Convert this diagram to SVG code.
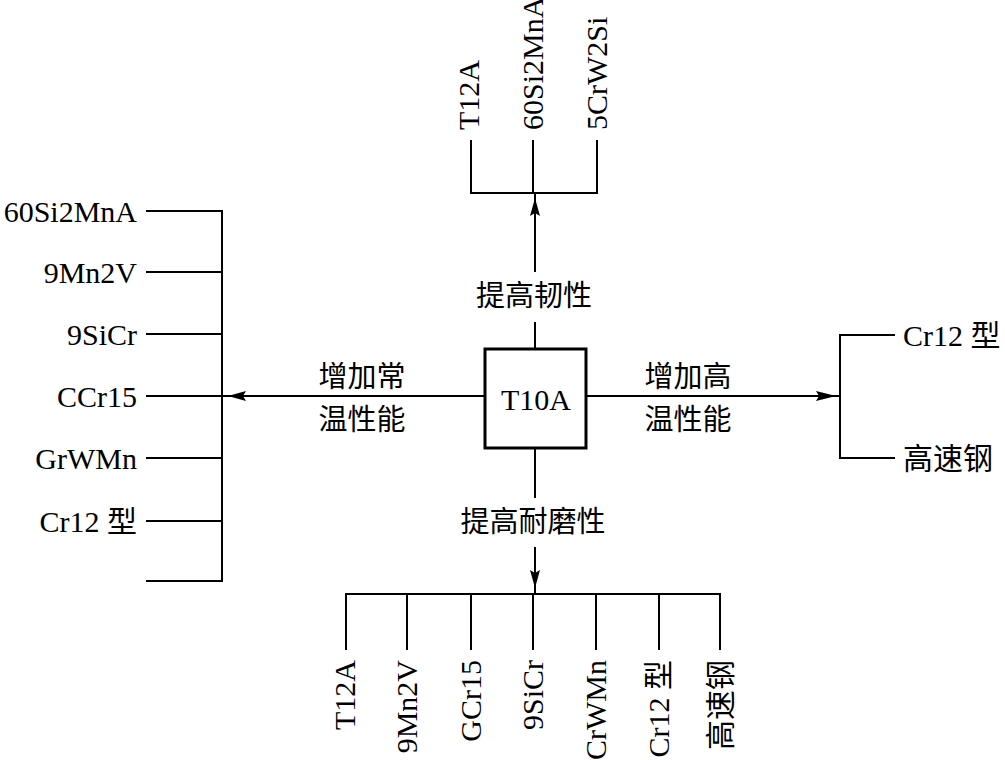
<svg xmlns="http://www.w3.org/2000/svg" width="1005" height="760" viewBox="0 0 1005 760">
<defs>
<style>
.ln{stroke:#000;stroke-width:2;fill:none}
.t{font-family:"Liberation Serif","Noto Sans CJK SC",serif;font-size:30px;fill:#000}
.c{font-family:"Noto Sans CJK SC",sans-serif;font-size:29px;fill:#000}
.ah{fill:#000}
</style>
</defs>
<rect width="1005" height="760" fill="#fff"/>
<g id="connectors">
<path class="ln" d="M535 349V322M535 272V193"/>
<path class="ln" d="M471 140V193H597V140M533 140V193"/>
<polygon class="ah" points="535,198 530,216 535,213 540,216"/>
<path class="ln" d="M485 396H222"/>
<path class="ln" d="M146 211H222V581H146M146 272H222M146 334H222M146 396H222M146 458H222M146 521H222"/>
<polygon class="ah" points="228,396 246,391 243,396 246,401"/>
<path class="ln" d="M586 396H840"/>
<path class="ln" d="M895 335H840V458H895"/>
<polygon class="ah" points="836,396 816,391 819,396 816,401"/>
<path class="ln" d="M535 448V498M535 547V594"/>
<path class="ln" d="M346 650V594H720V650M407 594V650M471 594V650M533 594V650M596 594V650M659 594V650"/>
<polygon class="ah" points="535,588 530,570 535,573 540,570"/>
</g>
<g id="T10A">
<rect x="485" y="349" width="101" height="99" fill="#fff" stroke="#000" stroke-width="3"/>
<text class="t" x="536" y="410" text-anchor="middle">T10A</text>
</g>
<g id="label-toughness"><text class="c" x="534" y="306" text-anchor="middle">提高韧性</text></g>
<g id="label-room-temp"><text class="c" x="362" y="387" text-anchor="middle">增加常</text><text class="c" x="362" y="430" text-anchor="middle">温性能</text></g>
<g id="label-high-temp"><text class="c" x="688" y="387" text-anchor="middle">增加高</text><text class="c" x="688" y="430" text-anchor="middle">温性能</text></g>
<g id="label-wear"><text class="c" x="533" y="532" text-anchor="middle">提高耐磨性</text></g>
<g id="top-items">
<text class="t" transform="translate(479,130) rotate(-90)">T12A</text>
<text class="t" transform="translate(543,130) rotate(-90)">60Si2MnA</text>
<text class="t" transform="translate(607,130) rotate(-90)">5CrW2Si</text>
</g>
<g id="left-items">
<text class="t" x="137" y="222" text-anchor="end">60Si2MnA</text>
<text class="t" x="137" y="283" text-anchor="end">9Mn2V</text>
<text class="t" x="137" y="345" text-anchor="end">9SiCr</text>
<text class="t" x="137" y="407" text-anchor="end">CCr15</text>
<text class="t" x="137" y="469" text-anchor="end">GrWMn</text>
<text class="t" x="137" y="532" text-anchor="end">Cr12 型</text>
</g>
<g id="right-items">
<text class="t" x="903" y="346">Cr12 型</text>
<text class="t" x="903" y="469">高速钢</text>
</g>
<g id="bottom-items">
<text class="t" transform="translate(355,660) rotate(-90)" text-anchor="end">T12A</text>
<text class="t" transform="translate(417,660) rotate(-90)" text-anchor="end">9Mn2V</text>
<text class="t" transform="translate(481,660) rotate(-90)" text-anchor="end">GCr15</text>
<text class="t" transform="translate(543,660) rotate(-90)" text-anchor="end">9SiCr</text>
<text class="t" transform="translate(606,660) rotate(-90)" text-anchor="end">CrWMn</text>
<text class="t" transform="translate(669,660) rotate(-90)" text-anchor="end">Cr12 型</text>
<text class="t" transform="translate(731,660) rotate(-90)" text-anchor="end">高速钢</text>
</g>
</svg>
